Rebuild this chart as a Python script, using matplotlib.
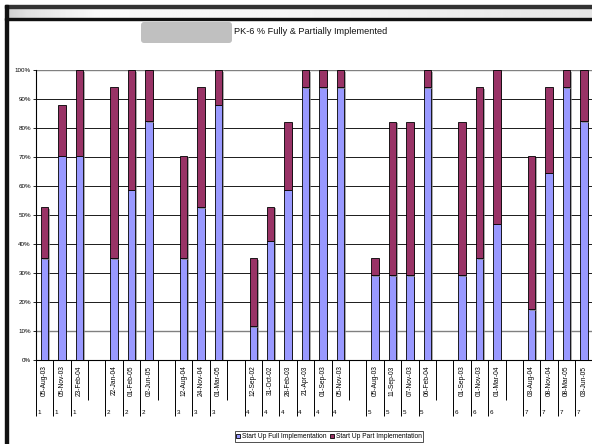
import numpy as np
import matplotlib
matplotlib.use("Agg")
import matplotlib.pyplot as plt
from matplotlib.patches import FancyBboxPatch, Rectangle
import matplotlib.patheffects as pe

plt.rcParams['font.family'] = ['Liberation Sans', 'DejaVu Sans']

# ---- data (empty strings = spacer categories between schools) ----
dates = ['05-Aug-03', '05-Nov-03', '23-Feb-04', '',
         '22-Jan-04', '01-Feb-05', '02-Jun-05', '',
         '12-Aug-04', '24-Nov-04', '01-Mar-05', '',
         '12-Sep-02', '31-Oct-02', '28-Feb-03', '21-Apr-03', '01-Sep-03', '05-Nov-03', '',
         '05-Aug-03', '11-Sep-03', '07-Nov-03', '06-Feb-04', '',
         '01-Sep-03', '01-Nov-03', '01-Mar-04', '',
         '03-Aug-04', '08-Nov-04', '08-Mar-05', '03-Jun-05']
groups = ['1', '1', '1', '',
          '2', '2', '2', '',
          '3', '3', '3', '',
          '4', '4', '4', '4', '4', '4', '',
          '5', '5', '5', '5', '',
          '6', '6', '6', '',
          '7', '7', '7', '7']
full_pct = [35.3, 70.6, 70.6, None,
            35.3, 58.8, 82.4, None,
            35.3, 52.9, 88.2, None,
            11.8, 41.2, 58.8, 94.1, 94.1, 94.1, None,
            29.4, 29.4, 29.4, 94.1, None,
            29.4, 35.3, 47.1, None,
            17.6, 64.7, 94.1, 82.4]
part_pct = [17.6, 17.6, 29.4, None,
            58.8, 41.2, 17.6, None,
            35.3, 41.2, 11.8, None,
            23.5, 11.8, 23.5, 5.9, 5.9, 5.9, None,
            5.9, 52.9, 52.9, 5.9, None,
            52.9, 58.8, 52.9, None,
            52.9, 29.4, 5.9, 17.6]
series_names = ['Start Up Full Implementation', 'Start Up Part Implementation']
title_text = 'PK-6 % Fully & Partially Implemented'

W, H = 592, 444
fig = plt.figure(figsize=(W / 100, H / 100), dpi=100)
fig.patch.set_facecolor('white')

# overlay for frame decorations (pixel coordinates)
ov = fig.add_axes([0, 0, 1, 1], zorder=0)
ov.set_xlim(0, W)
ov.set_ylim(H, 0)
ov.axis('off')
grad = np.interp(np.linspace(0, 1, 300), [0, 0.03, 0.15, 0.5, 1.0],
                 [0.82, 0.88, 0.98, 0.96, 0.90])
ov.imshow(np.tile(grad, (2, 1)), cmap='gray', vmin=0, vmax=1, aspect='auto',
          extent=[7, W, 19, 8], zorder=1)
ov.add_patch(Rectangle((5, 5), W - 5, 3, color='#333333', zorder=2))
ov.add_patch(Rectangle((5, 18.5), W - 5, 1.2, color='#111111', zorder=2))
ov.add_patch(Rectangle((5, 5), 3.3, H - 5, color='#111111', zorder=3))
ov.add_patch(FancyBboxPatch((141, 22), 91, 21, boxstyle='round,pad=0,rounding_size=3',
                            facecolor='#c0c0c0', edgecolor='none', zorder=2))
ov.text(233.5, 31.5, title_text, ha='left', va='center', fontsize=6.6, color='#111111')

# main chart axes
left_px, right_px, top_px, bot_px = 35.8, 592.6, 70.3, 360.3
ax = fig.add_axes([left_px / W, 1 - bot_px / H, (right_px - left_px) / W,
                   (bot_px - top_px) / H], zorder=1)
ax.patch.set_alpha(0)

n = len(dates)
x = np.arange(n)
idx = [i for i in range(n) if full_pct[i] is not None]
xf = x[idx]
fv = np.array([full_pct[i] for i in idx]) / 100.0
pv = np.array([part_pct[i] for i in idx]) / 100.0

shadow = [pe.SimplePatchShadow(offset=(1.2, -1.2), shadow_rgbFace='#888888', alpha=0.7),
          pe.Normal()]
b1 = ax.bar(xf, fv, width=0.42, color='#9999FF', edgecolor='black', linewidth=0.6,
            label=series_names[0], zorder=3)
b2 = ax.bar(xf, pv, bottom=fv, width=0.42, color='#993366', edgecolor='black',
            linewidth=0.6, label=series_names[1], zorder=3)
for b in list(b1) + list(b2):
    b.set_path_effects(shadow)

ax.set_xlim(-0.5, n - 0.5)
ax.set_ylim(0, 1)
ax.set_yticks(np.arange(0, 1.001, 0.1))
ax.set_yticklabels([f'{int(round(v * 100))}%' for v in np.arange(0, 1.001, 0.1)],
                   fontsize=4.5)
ax.tick_params(axis='y', length=2.3, width=0.6, pad=1.2, color='black')
ax.set_xticks([])
ax.yaxis.grid(True, color='#1a1a1a', linewidth=0.7)
ax.set_axisbelow(True)
for s in ['top', 'right']:
    ax.spines[s].set_visible(False)
ax.spines['left'].set_linewidth(0.8)
ax.spines['bottom'].set_linewidth(0.8)
# top (100%) and 10% lines appear grey in the reference
gl = ax.get_ygridlines()
for k in (1, 10):
    gl[k].set_color('#808080')
    gl[k].set_linewidth(1.0)


def ay(py):
    return (bot_px - py) / (bot_px - top_px)


tr = ax.get_xaxis_transform()
# category boundaries
for i in range(n + 1):
    bx = i - 0.5
    right_is_cat = i < n and dates[i] != ''
    y_end = ay(416) if right_is_cat else ay(400)
    ax.plot([bx, bx], [0, y_end], transform=tr, color='black', lw=0.7,
            clip_on=False, solid_capstyle='butt')
for i in range(n):
    if dates[i]:
        ax.text(i, ay(365.5), dates[i], transform=tr, rotation=90, ha='center',
                va='top', fontsize=4.8, clip_on=False)
        ax.text(i - 0.5 + 0.09, ay(412), groups[i], transform=tr, ha='left',
                va='center', fontsize=4.5, clip_on=False)

leg = fig.legend(handles=[b1, b2], labels=series_names, loc='center',
                 bbox_to_anchor=(329 / W, 1 - 436.5 / H), ncol=2, fontsize=4.8,
                 frameon=True, fancybox=False, edgecolor='black', handlelength=0.6,
                 handleheight=0.6, handletextpad=0.3, columnspacing=0.4,
                 borderpad=0.25, borderaxespad=0)
leg.get_frame().set_linewidth(0.6)
for h in leg.legend_handles:
    h.set_path_effects([])

fig.savefig('out.png', dpi=100)
